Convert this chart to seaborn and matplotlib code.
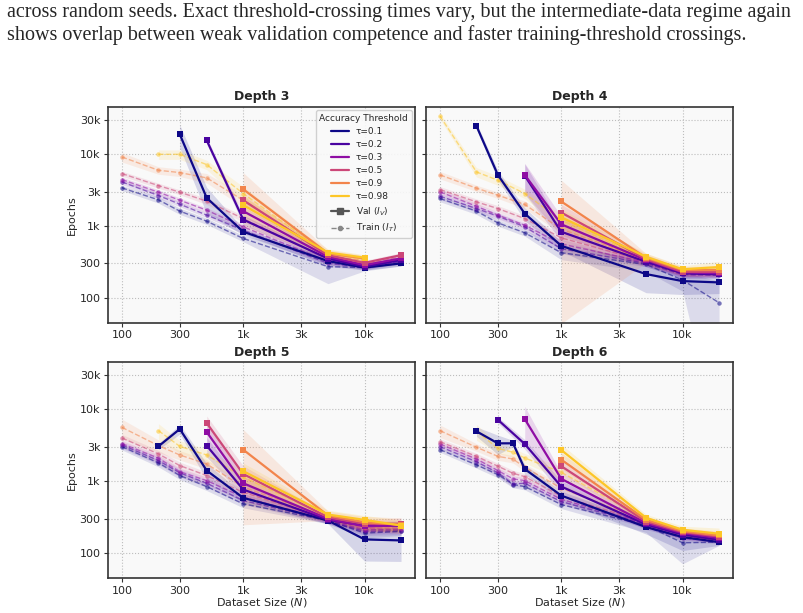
import numpy as np
import pandas as pd
import matplotlib
matplotlib.use('Agg')
import matplotlib.pyplot as plt
import seaborn as sns
from matplotlib.lines import Line2D

nan = np.nan

# dataset sizes
N = [100, 200, 300, 500, 1000, 5000, 10000, 20000]
N6 = [100, 200, 300, 400, 500, 1000, 5000, 10000, 20000]
TAUS = [0.1, 0.2, 0.3, 0.5, 0.9, 0.98]
TAU_LABELS = ['τ=0.1', 'τ=0.2', 'τ=0.3', 'τ=0.5', 'τ=0.9', 'τ=0.98']

XTICKS = [100, 300, 1000, 3000, 10000]
XTICKLABELS = ['100', '300', '1k', '3k', '10k']
YTICKS = [100, 300, 1000, 3000, 10000, 30000]
YTICKLABELS = ['100', '300', '1k', '3k', '10k', '30k']

CAPTION = ["across random seeds. Exact threshold-crossing times vary, but the intermediate-data regime again",
           "shows overlap between weak validation competence and faster training-threshold crossings."]

# ---- Depth 3 ----  (epochs to cross threshold; spreads are relative)
d3_val = {
    0.1:  [nan, nan, 18750, 2450, 826, 323, 262, 300],
    0.2:  [nan, nan, nan, 15480, 1220, 350, 270, 334],
    0.3:  [nan, nan, nan, nan, 1600, 370, 284, 352],
    0.5:  [nan, nan, nan, nan, 2270, 390, 305, 391],
    0.9:  [nan, nan, nan, nan, 3230, 413, 352, nan],
    0.98: [nan, nan, nan, nan, 1940, 425, 360, nan],
}
d3_val_sp = {
    0.1:  [0, 0, 0.35, 0.4, 0.1, 0.12, 0.08, 0.08],
    0.2:  [0, 0, 0, 0.1, 0.15, 0.1, 0.08, 0.08],
    0.3:  [0, 0, 0, 0, 0.15, 0.1, 0.08, 0.08],
    0.5:  [0, 0, 0, 0, 0.15, 0.1, 0.08, 0.08],
    0.9:  [0, 0, 0, 0, 0.7, 0.12, 0.1, 0],
    0.98: [0, 0, 0, 0, 0.3, 0.12, 0.1, 0],
}
d3_train = {
    0.1:  [3370, 2300, 1600, 1160, 667, 270, 262, 300],
    0.2:  [4080, 2640, 2000, 1410, 870, 300, 265, 320],
    0.3:  [4400, 2940, 2270, 1650, 968, 320, 275, 340],
    0.5:  [5330, 3630, 2940, 2200, 1260, 345, 295, 370],
    0.9:  [9080, 5930, 5510, 4640, 2270, 380, 330, nan],
    0.98: [nan, 9890, 9890, 7110, 2810, 400, 345, nan],
}
d3_train_sp = {
    0.1:  [0.08, 0.1, 0.1, 0.1, 0.1, 0.42, 0.1, 0.08],
    0.2:  [0.08, 0.08, 0.08, 0.08, 0.1, 0.1, 0.08, 0.08],
    0.3:  [0.08, 0.08, 0.08, 0.08, 0.1, 0.1, 0.08, 0.08],
    0.5:  [0.08, 0.08, 0.08, 0.1, 0.1, 0.1, 0.08, 0.08],
    0.9:  [0.15, 0.12, 0.12, 0.15, 0.2, 0.1, 0.1, 0],
    0.98: [0, 0.15, 0.15, 0.15, 0.25, 0.1, 0.1, 0],
}

# ---- Depth 4 ----
d4_val = {
    0.1:  [nan, 24500, 5110, 1480, 527, 213, 170, 163],
    0.2:  [nan, nan, nan, 5000, 826, 316, 218, 211],
    0.3:  [nan, nan, nan, 5110, 1050, 334, 225, 218],
    0.5:  [nan, nan, nan, nan, 1530, 344, 229, 229],
    0.9:  [nan, nan, nan, nan, 2180, 359, 242, 242],
    0.98: [nan, nan, nan, nan, 1310, 371, 248, 267],
}
d4_val_sp = {
    0.1:  [0, 0.1, 0.15, 0.2, 0.15, 0.45, 0.35, 0.3],
    0.2:  [0, 0, 0, 0.45, 0.25, 0.15, 0.15, 0.1],
    0.3:  [0, 0, 0, 0.45, 0.3, 0.15, 0.12, 0.1],
    0.5:  [0, 0, 0, 0, 0.3, 0.15, 0.12, 0.12],
    0.9:  [0, 0, 0, 0, 0.98, 0.15, 0.12, 0.15],
    0.98: [0, 0, 0, 0, 0.3, 0.12, 0.12, 0.2],
}
d4_train = {
    0.1:  [2400, 1600, 1100, 800, 422, 290, 176, 85],
    0.2:  [2580, 1740, 1360, 970, 480, 300, 210, 205],
    0.3:  [2970, 1870, 1410, 1020, 560, 310, 218, 212],
    0.5:  [3200, 2150, 1740, 1260, 680, 320, 222, 222],
    0.9:  [5110, 3340, 2670, 1980, 900, 335, 232, 238],
    0.98: [33700, 5620, 4310, 2810, 1200, 345, 238, 248],
}
d4_train_sp = {
    0.1:  [0.1, 0.1, 0.1, 0.1, 0.2, 0.2, 0.3, 1.0],
    0.2:  [0.1, 0.1, 0.1, 0.1, 0.15, 0.1, 0.1, 0.1],
    0.3:  [0.1, 0.1, 0.1, 0.1, 0.15, 0.1, 0.1, 0.1],
    0.5:  [0.1, 0.1, 0.1, 0.1, 0.15, 0.1, 0.1, 0.1],
    0.9:  [0.12, 0.1, 0.1, 0.12, 0.15, 0.1, 0.1, 0.1],
    0.98: [0.1, 0.15, 0.15, 0.15, 0.2, 0.1, 0.1, 0.1],
}

# ---- Depth 5 ----
d5_val = {
    0.1:  [nan, 3060, 5330, 1410, 587, 284, 155, 150],
    0.2:  [nan, nan, nan, 3130, 766, 290, 242, 242],
    0.3:  [nan, nan, nan, 4840, 938, 300, 235, 242],
    0.5:  [nan, nan, nan, 6460, 1260, 316, 255, 255],
    0.9:  [nan, nan, nan, nan, 2750, 334, 269, 247],
    0.98: [nan, nan, nan, nan, 1380, 344, 290, 242],
}
d5_val_sp = {
    0.1:  [0, 0.1, 0.15, 0.25, 0.15, 0.1, 0.5, 0.49],
    0.2:  [0, 0, 0, 0.3, 0.2, 0.1, 0.15, 0.15],
    0.3:  [0, 0, 0, 0.3, 0.25, 0.1, 0.15, 0.15],
    0.5:  [0, 0, 0, 0.25, 0.3, 0.1, 0.15, 0.2],
    0.9:  [0, 0, 0, 0, 0.91, 0.15, 0.2, 0.25],
    0.98: [0, 0, 0, 0, 0.3, 0.15, 0.15, 0.2],
}
d5_train = {
    0.1:  [3030, 1800, 1200, 843, 484, 284, 190, 200],
    0.2:  [3200, 1940, 1310, 938, 540, 285, 200, 205],
    0.3:  [3340, 2090, 1360, 1020, 600, 290, 210, 215],
    0.5:  [4000, 2400, 1650, 1200, 700, 300, 220, 225],
    0.9:  [5620, 3130, 2320, 1740, 830, 310, 230, 235],
    0.98: [nan, 5060, 3060, 2320, 1140, 320, 240, 240],
}
d5_train_sp = {
    0.1:  [0.1, 0.12, 0.12, 0.12, 0.12, 0.1, 0.15, 0.12],
    0.2:  [0.1, 0.12, 0.12, 0.12, 0.12, 0.1, 0.12, 0.12],
    0.3:  [0.1, 0.12, 0.12, 0.12, 0.12, 0.1, 0.12, 0.12],
    0.5:  [0.12, 0.12, 0.12, 0.12, 0.12, 0.1, 0.12, 0.12],
    0.9:  [0.3, 0.2, 0.15, 0.15, 0.15, 0.1, 0.15, 0.15],
    0.98: [0, 0.25, 0.2, 0.2, 0.2, 0.1, 0.15, 0.15],
}

# ---- Depth 6 ----  (extra N=400 run)
d6_val = {
    0.1:  [nan, 4950, 3370, 3370, 1480, 632, 230, 167, 142],
    0.2:  [nan, nan, 7180, nan, 3300, 843, 250, 181, 153],
    0.3:  [nan, nan, nan, nan, 7340, 1080, 261, 190, 162],
    0.5:  [nan, nan, nan, nan, nan, 1620, 275, 196, 170],
    0.9:  [nan, nan, nan, nan, nan, 2000, 290, 202, 176],
    0.98: [nan, nan, nan, nan, nan, 2720, 310, 211, 186],
}
d6_val_sp = {
    0.1:  [0, 0.15, 0.3, 0.1, 0.15, 0.15, 0.2, 0.35, 0.1],
    0.2:  [0, 0, 0.1, 0, 0.15, 0.2, 0.15, 0.12, 0.1],
    0.3:  [0, 0, 0, 0, 0.5, 0.2, 0.12, 0.1, 0.1],
    0.5:  [0, 0, 0, 0, 0, 0.2, 0.12, 0.1, 0.1],
    0.9:  [0, 0, 0, 0, 0, 0.25, 0.12, 0.1, 0.15],
    0.98: [0, 0, 0, 0, 0, 0.2, 0.12, 0.12, 0.2],
}
d6_train = {
    0.1:  [2750, 1690, 1240, 900, 843, 474, 242, 139, 142],
    0.2:  [3030, 1870, 1310, 918, 938, 520, 250, 160, 150],
    0.3:  [3300, 2040, 1410, 1080, 1020, 560, 258, 170, 155],
    0.5:  [3560, 2220, 1620, 1290, 1160, 620, 268, 180, 160],
    0.9:  [5060, 2970, 2220, 2040, 1560, 800, 280, 190, 168],
    0.98: [nan, 4950, 2870, 2530, 2110, 1330, 295, 200, 178],
}
d6_train_sp = {
    0.1:  [0.08, 0.1, 0.1, 0.1, 0.1, 0.12, 0.2, 0.49, 0.1],
    0.2:  [0.08, 0.1, 0.1, 0.1, 0.1, 0.1, 0.1, 0.1, 0.1],
    0.3:  [0.08, 0.1, 0.1, 0.1, 0.1, 0.1, 0.1, 0.1, 0.1],
    0.5:  [0.1, 0.1, 0.1, 0.1, 0.1, 0.1, 0.1, 0.1, 0.1],
    0.9:  [0.2, 0.12, 0.12, 0.12, 0.12, 0.12, 0.1, 0.1, 0.1],
    0.98: [0, 0.25, 0.15, 0.15, 0.15, 0.2, 0.1, 0.1, 0.1],
}

PANELS = [
    ('Depth 3', N, d3_val, d3_val_sp, d3_train, d3_train_sp),
    ('Depth 4', N, d4_val, d4_val_sp, d4_train, d4_train_sp),
    ('Depth 5', N, d5_val, d5_val_sp, d5_train, d5_train_sp),
    ('Depth 6', N6, d6_val, d6_val_sp, d6_train, d6_train_sp),
]

colors = [plt.cm.plasma(v) for v in [0.0, 0.12, 0.3, 0.5, 0.7, 0.88]]

sns.set_style('ticks', {'axes.facecolor': '#f9f9f9', 'axes.edgecolor': '#333333'})
plt.rc('font', size=8)
plt.rc('axes', titlesize=9, labelsize=8, linewidth=1.2)
plt.rc('xtick', labelsize=8)
plt.rc('ytick', labelsize=8)


def series(xs, vals, sp):
    df = pd.DataFrame({'N': xs, 'epochs': vals, 'sp': sp}).dropna()
    df['lo'] = np.clip(df.epochs * (1 - df.sp), 1, None)
    df['hi'] = df.epochs * (1 + df.sp)
    return df


fig, axes = plt.subplots(2, 2, figsize=(8.04, 6.13), dpi=100, sharex=True, sharey=True)
plt.subplots_adjust(left=0.1343, right=0.9117, top=0.8254, bottom=0.0571, wspace=0.036, hspace=0.185)

for ax, (title, xs, val, val_sp, train, train_sp) in zip(axes.flat, PANELS):
    ax.set_xscale('log')
    ax.set_yscale('log')
    # bands
    for i, t in enumerate(TAUS):
        tr = series(xs, train[t], train_sp[t])
        ax.fill_between(tr.N, tr.lo, tr.hi, color=colors[i], alpha=0.12, lw=0)
        va = series(xs, val[t], val_sp[t])
        ax.fill_between(va.N, va.lo, va.hi, color=colors[i], alpha=0.15, lw=0)
    # train curves (dashed)
    for i, t in enumerate(TAUS):
        tr = series(xs, train[t], train_sp[t])
        sns.lineplot(data=tr, x='N', y='epochs', ax=ax, color=colors[i], linestyle='--',
                     marker='o', markersize=3.2, mec=colors[i], mew=0, lw=1, alpha=0.55,
                     errorbar=None, legend=False)
    # val curves (solid)
    for i, t in enumerate(TAUS):
        va = series(xs, val[t], val_sp[t])
        sns.lineplot(data=va, x='N', y='epochs', ax=ax, color=colors[i], linestyle='-',
                     marker='s', markersize=5, mec=colors[i], mew=0, lw=1.6,
                     errorbar=None, legend=False)
    ax.set_title(title, fontweight='bold', pad=5)
    ax.set_ylim(45, 45000)
    ax.set_xticks(XTICKS)
    ax.set_xticklabels(XTICKLABELS)
    ax.set_yticks(YTICKS)
    ax.set_yticklabels(YTICKLABELS)
    ax.minorticks_off()
    ax.grid(True, which='major', linestyle=':', color='#bdbdbd', linewidth=0.8)
    ax.tick_params(labelbottom=True, length=3, pad=2.5, color='#333333')
    ax.set_xlabel('')
    ax.set_ylabel('')
    for s in ax.spines.values():
        s.set_color('#333333')
        s.set_linewidth(1.2)

axes[0, 0].set_ylabel('Epochs', labelpad=2)
axes[1, 0].set_ylabel('Epochs', labelpad=2)
axes[1, 0].set_xlabel('Dataset Size ($N$)', labelpad=0.5)
axes[1, 1].set_xlabel('Dataset Size ($N$)', labelpad=0.5)

handles = [Line2D([], [], color=c, lw=1.6) for c in colors]
handles.append(Line2D([], [], color='#555555', lw=1.6, marker='s', markersize=4))
handles.append(Line2D([], [], color='#888888', lw=1, ls='--', marker='o', markersize=3))
labels = TAU_LABELS + ['Val ($I_V$)', 'Train ($I_T$)']
axes[0, 0].legend(handles, labels, title='Accuracy Threshold', loc='upper right',
                  fontsize=6.5, title_fontsize=6.5, frameon=True, framealpha=0.9,
                  edgecolor='#cccccc', borderaxespad=0.35, labelspacing=0.45)

for k, line in enumerate(CAPTION):
    fig.text(0.009, 1 - (13 + 22 * k) / 613, line, family='Liberation Serif', fontsize=14.5,
             va='center', ha='left')

fig.savefig('out.png', dpi=100)
